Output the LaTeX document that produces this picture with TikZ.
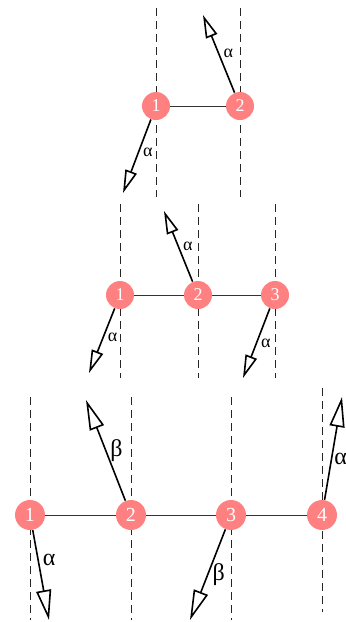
\documentclass[tikz,border=0pt]{standalone}
\usepackage{fontspec}
\setmainfont{Liberation Serif}
\usepackage{tikz}
\usetikzlibrary{arrows.meta, positioning, calc, backgrounds}

\begin{document}
\begin{tikzpicture}[
  x=0.5pt, y=-0.5pt,
  atom/.style={circle, fill=red!50, text=white, minimum size=14pt, inner sep=0pt, font=\small},
  bigatom/.style={atom, minimum size=15pt, font=\normalsize},
  bond/.style={draw, black!80, line width=0.5pt},
  guide/.style={draw, dashed, dash pattern=on 4pt off 2.5pt, black!85, line width=0.5pt},
  vec/.style={draw, line width=0.8pt, -{Triangle[open, length=11.5pt, width=6pt]}},
  bigvec/.style={draw, line width=0.8pt, -{Triangle[open, length=15pt, width=7.5pt]}},
  lbl/.style={font=\small, inner sep=2pt},
  biglbl/.style={font=\large, inner sep=2pt}
]
\useasboundingbox (0,0) rectangle (346,622);

%% 上段：兩個原子
\node[atom] (a1) at (156,106) {1};
\node[atom] (a2) at (240,106) {2};
\coordinate (ta1) at (123,193);
\coordinate (ta2) at (203,15);

\draw[bond] (a1) -- (a2);
\draw[vec] (a1) -- (ta1) node[lbl, pos=0.45, right] {α};
\draw[vec] (a2) -- (ta2) node[lbl, midway, right] {α};

%% 中段：三個原子
\node[atom] (b1) at (120,295) {1};
\node[atom] (b2) at (198,295) {2};
\node[atom] (b3) at (275,295) {3};
\coordinate (tb1) at (89,373);
\coordinate (tb2) at (164,211);
\coordinate (tb3) at (243,378);

\draw[bond] (b1) -- (b2) -- (b3);
\draw[vec] (b1) -- (tb1) node[lbl, pos=0.45, right] {α};
\draw[vec] (b2) -- (tb2) node[lbl, midway, right] {α};
\draw[vec] (b3) -- (tb3) node[lbl, pos=0.5, right] {α};

%% 下段：四個原子
\node[bigatom] (c1) at (30,515) {1};
\node[bigatom] (c2) at (131,515) {2};
\node[bigatom] (c3) at (231,515) {3};
\node[bigatom] (c4) at (322,515) {4};
\coordinate (tc1) at (49,620);
\coordinate (tc2) at (86,400);
\coordinate (tc3) at (190,620);
\coordinate (tc4) at (342,397);

\draw[bond] (c1) -- (c2) -- (c3) -- (c4);
\draw[bigvec] (c1) -- (tc1) node[biglbl, pos=0.33, right] {α};
\draw[bigvec] (c2) -- (tc2) node[biglbl, midway, right] {β};
\draw[bigvec] (c3) -- (tc3) node[biglbl, pos=0.5, right] {β};
\draw[bigvec] (c4) -- (tc4) node[biglbl, pos=0.4, right, inner sep=1pt] {α};

%% 虛線參考線（放在底層）
\begin{scope}[on background layer]
\draw[guide] (a1 |- 0,8) -- (a1 |- 0,197);
\draw[guide] (a2 |- 0,8) -- (a2 |- 0,197);
\foreach \n in {b1,b2,b3}
  \draw[guide] (\n |- 0,204) -- (\n |- 0,378);
\foreach \n in {c1,c2,c3}
  \draw[guide] (\n |- 0,397) -- (\n |- 0,620);
\draw[guide] (c4 |- 0,388) -- (c4 |- 0,612);
\end{scope}
\end{tikzpicture}
\end{document}
